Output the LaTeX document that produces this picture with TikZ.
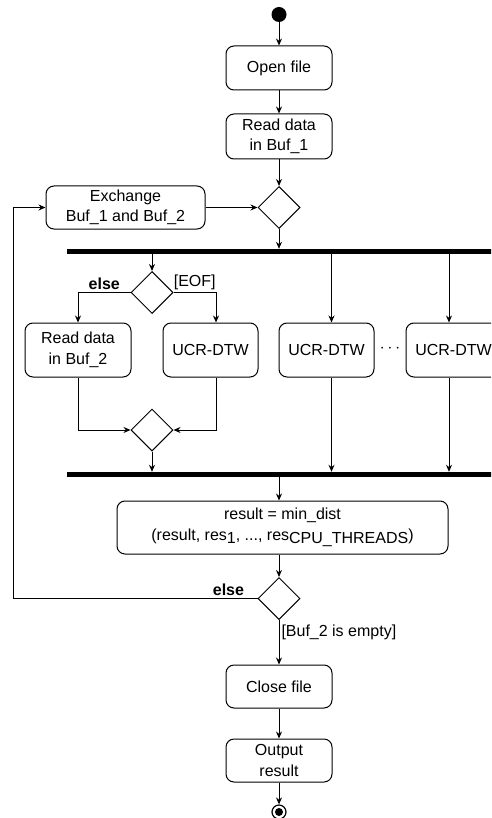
\documentclass[tikz,border=0pt]{standalone}
\usepackage{fontspec}
\setmainfont{Liberation Sans}
\usetikzlibrary{arrows.meta,shapes.geometric}
\newcommand{\lowsub}[1]{\raisebox{-3pt}{#1}}

\begin{document}
\begin{tikzpicture}[x=1pt,y=-1pt,
    every node/.style={font=\fontsize{16}{20.5}\selectfont},
    act/.style={draw,line width=1pt,rounded corners=8,align=center,inner sep=0pt,
      minimum width=106,minimum height=44},
    dec/.style={draw,line width=1pt,diamond,aspect=1,inner sep=0pt,minimum width=42,minimum height=42},
    bar/.style={fill=black,inner sep=0pt,minimum width=440,minimum height=5},
    initial/.style={circle,fill=black,inner sep=0pt,minimum size=15},
    final/.style={circle,draw,line width=1.2pt,inner sep=0pt,minimum size=14,
      path picture={\fill (path picture bounding box.center) circle (4pt);}},
    arr/.style={line width=1pt,-{Stealth[length=7pt,width=6pt]}},
    lbl/.style={inner sep=2pt},
    lblb/.style={inner sep=2pt,font=\fontsize{16}{20.5}\selectfont\bfseries}]
  \clip (0,0) rectangle (491,818);
  \node[initial] (init) at (279,14.5) {};
  \node[act] (open) at (279,68) {Open file};
  \node[act,minimum height=45] (read1) at (279,136.5) {Read data\\in Buf\_1};
  \node[dec] (d1) at (279,207.5) {};
  \node[act,minimum width=159,minimum height=43] (xch) at (125.5,207.5) {Exchange\\Buf\_1 and Buf\_2};
  \node[bar] (fork) at (287,251.5) {};
  \node[dec] (d2) at (152,292.5) {};
  \node[act,minimum height=54] (read2) at (78,350) {Read data\\in Buf\_2};
  \node[act,minimum width=95,minimum height=54] (ucr1) at (210.5,350) {UCR-DTW};
  \node[act,minimum width=95,minimum height=54] (ucr2) at (326.5,350) {UCR-DTW};
  \node[act,minimum width=95,minimum height=54] (ucr3) at (453.5,350) {UCR-DTW};
  \node (dots) at (390,349) {$\cdots$};
  \node[dec] (merge) at (152,430) {};
  \node[bar] (join) at (287,474.5) {};
  \node[act,minimum width=331,minimum height=53] (res) at (282.5,527.5)
    {result = min\_dist\\(result, res\lowsub{1}, ..., res\lowsub{CPU\_THREADS})};
  \node[dec] (d3) at (279,598.5) {};
  \node[act,minimum height=43] (close) at (279,686.5) {Close file};
  \node[act,minimum height=43] (out) at (279,760.5) {Output\\result};
  \node[final] (stop) at (279,812) {};
  % taps on the boxes below the fork
  \coordinate (t1) at ([xshift=5.5]ucr1.north);
  \coordinate (b1) at ([xshift=5.5]ucr1.south);
  \coordinate (t2) at ([xshift=5]ucr2.north);
  \coordinate (b2) at ([xshift=5]ucr2.south);
  \coordinate (t3) at ([xshift=-4.5]ucr3.north);
  \coordinate (b3) at ([xshift=-4.5]ucr3.south);
  \draw[arr] (init) -- (open);
  \draw[arr] (open) -- (read1);
  \draw[arr] (read1) -- (d1);
  \draw[arr] (xch) -- (d1);
  \draw[arr] (d1) -- (d1 |- fork.north);
  \draw[arr] (d2 |- fork.south) -- (d2);
  \draw[arr] (fork.south -| t2) -- (t2);
  \draw[arr] (fork.south -| t3) -- (t3);
  \draw[arr] (d2.west) -| node[lblb,above,pos=0.25] {else} (read2);
  \draw[arr] (d2.east) -| node[lbl,above,pos=0.25] {[EOF]} (t1);
  \draw[arr] (read2) |- (merge);
  \draw[arr] (b1) |- (merge);
  \draw[arr] (merge) -- (merge |- join.north);
  \draw[arr] (b2) -- (b2 |- join.north);
  \draw[arr] (b3) -- (b3 |- join.north);
  \draw[arr] (d3 |- join.south) -- (d3 |- res.north);
  \draw[arr] (d3 |- res.south) -- (d3);
  \draw[arr] (d3.west) -- node[lblb,above left,pos=0.045] {else} ++(-244,0) |- (xch.west);
  \draw[arr] (d3) -- node[lbl,right,pos=0.28] {[Buf\_2 is empty]} (close);
  \draw[arr] (close) -- (out);
  \draw[arr] (out) -- (stop);
\end{tikzpicture}
\end{document}
